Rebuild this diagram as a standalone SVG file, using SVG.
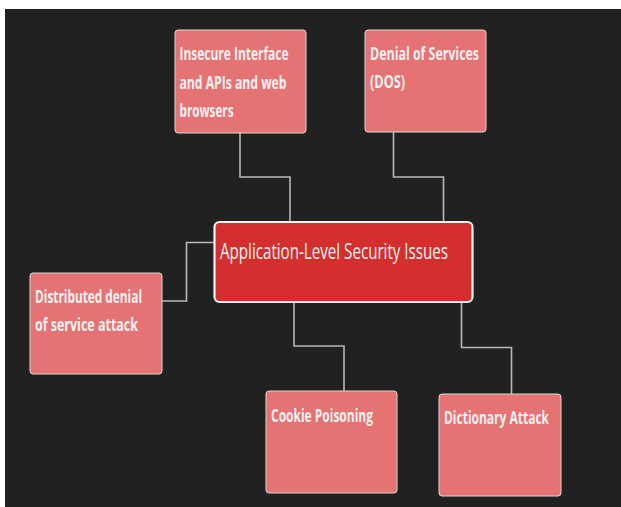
<svg xmlns="http://www.w3.org/2000/svg" width="621" height="507" viewBox="0 0 621 507">
  <style>
    .node rect { fill: #e57373; stroke: #d9d9d9; stroke-width: 1; }
    .root rect { fill: #d32f2f; stroke: #f2f2f2; stroke-width: 2.2; }
    text { font-family: "Open Sans", "Liberation Sans", sans-serif; font-weight: 700; fill: #fbf1f1; }
    .node text { font-size: 17px; }
    .root text { font-size: 22.5px; font-weight: 500; }
    .wire { fill: none; stroke: #b8b8b8; stroke-width: 1.6; }
  </style>

  <!-- page and canvas -->
  <rect x="0" y="0" width="621" height="507" fill="#ffffff"/>
  <rect x="5" y="9" width="616" height="498" fill="#212121"/>

  <!-- connectors -->
  <g id="connectors">
    <path class="wire" d="M240,132 V177 H290 V221"/>
    <path class="wire" d="M393.5,131 V177 H443.5 V221"/>
    <path class="wire" d="M214,242.5 H186.5 V301 H162"/>
    <path class="wire" d="M294,302 V346 H344 V391"/>
    <path class="wire" d="M461.5,302 V347.5 H511.5 V394"/>
  </g>

  <!-- central topic -->
  <g id="node-root" class="root">
    <rect x="214.5" y="222" width="258" height="80" rx="5"/>
    <text x="220" y="258.5" textLength="228" lengthAdjust="spacingAndGlyphs">Application-Level Security Issues</text>
  </g>

  <g id="node-insecure" class="node">
    <rect x="175" y="30" width="131" height="103" rx="3"/>
    <text x="179.5" y="60" textLength="109" lengthAdjust="spacingAndGlyphs">Insecure Interface</text>
    <text x="179.5" y="89" textLength="107" lengthAdjust="spacingAndGlyphs">and APIs and web</text>
    <text x="179.5" y="117" textLength="54" lengthAdjust="spacingAndGlyphs">browsers</text>
  </g>

  <g id="node-dos" class="node">
    <rect x="365" y="30" width="121" height="102" rx="3"/>
    <text x="370" y="60" textLength="109" lengthAdjust="spacingAndGlyphs">Denial of Services</text>
    <text x="370" y="88" textLength="35" lengthAdjust="spacingAndGlyphs">(DOS)</text>
  </g>

  <g id="node-ddos" class="node">
    <rect x="30" y="273" width="132" height="101" rx="3"/>
    <text x="35" y="303" textLength="107" lengthAdjust="spacingAndGlyphs">Distributed denial</text>
    <text x="35" y="331" textLength="103" lengthAdjust="spacingAndGlyphs">of service attack</text>
  </g>

  <g id="node-cookie" class="node">
    <rect x="266" y="391" width="131" height="102" rx="3"/>
    <text x="271" y="421.5" textLength="102" lengthAdjust="spacingAndGlyphs">Cookie Poisoning</text>
  </g>

  <g id="node-dictionary" class="node">
    <rect x="439" y="394" width="122" height="102" rx="3"/>
    <text x="444" y="424" textLength="105" lengthAdjust="spacingAndGlyphs">Dictionary Attack</text>
  </g>
</svg>
